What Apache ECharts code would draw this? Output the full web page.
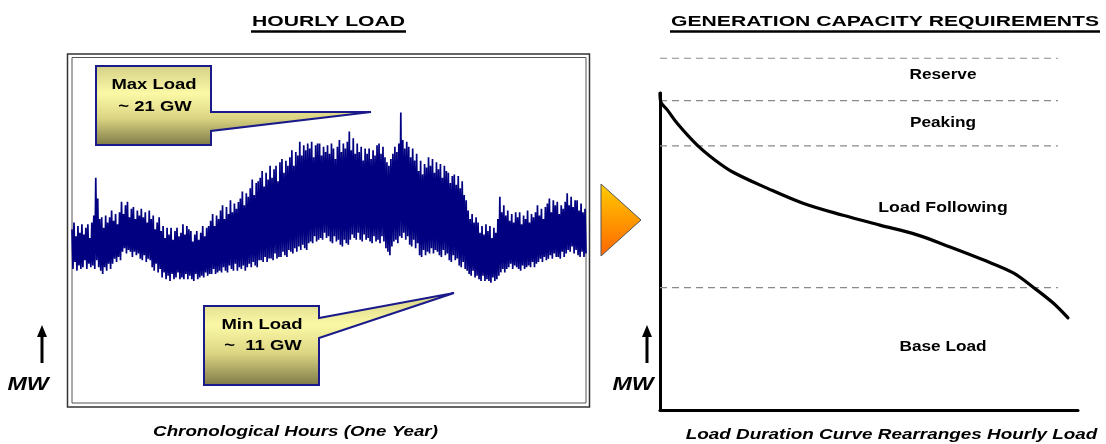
<!DOCTYPE html>
<html><head><meta charset="UTF-8">
<title>Hourly load / generation capacity</title>
<script src="https://cdn.jsdelivr.net/npm/echarts@6.0.0/dist/echarts.min.js"></script>
<style>
  html, body { margin: 0; padding: 0; background: #fff; }
  #main { width: 1106px; height: 444px; }
</style>
</head>
<body>
<div id="main"></div>
<script type="text/javascript">
var hourlyLoad = [
  14.2,11.9, 14.6,12.3, 13.8,11.8, 14.4,12.1, 14.0,11.9,
  14.5,12.0, 13.9,12.4, 14.3,11.9, 14.5,12.2, 13.7,12.0,
  14.6,12.1, 15.0,11.9, 17.2,12.4, 16.0,12.0, 14.8,11.8,
  14.9,11.6, 14.3,12.0, 15.0,11.8, 14.6,12.2, 14.9,11.9,
  15.3,12.2, 14.7,12.5, 15.1,12.3, 14.5,12.6, 15.2,12.4,
  15.8,12.9, 15.1,13.1, 15.6,12.8, 15.8,13.0, 14.9,12.9,
  15.4,12.6, 15.5,12.9, 14.8,12.7, 15.3,12.8, 15.0,12.5,
  15.4,12.4, 14.9,12.7, 15.2,12.3, 14.6,12.5, 15.3,12.4,
  14.8,12.0, 15.0,11.8, 14.2,12.2, 14.6,11.7, 14.9,11.9,
  14.1,11.4, 14.4,11.7, 13.7,11.3, 14.3,11.5, 13.9,11.2,
  14.3,11.6, 13.6,11.3, 14.1,11.4, 14.3,11.7, 13.8,11.3,
  14.0,11.4, 14.5,11.3, 13.9,11.6, 14.4,11.3, 14.2,11.5,
  14.1,11.3, 13.5,11.2, 13.9,11.6, 14.1,11.3, 13.6,11.4,
  14.0,11.5, 14.4,11.4, 13.8,11.7, 14.3,11.5, 14.4,11.6,
  14.7,11.6, 15.1,11.9, 14.4,11.6, 15.0,11.7, 14.8,11.8,
  15.3,11.7, 15.6,12.0, 14.8,11.8, 15.5,11.7, 15.1,12.1,
  15.9,11.9, 15.2,11.8, 15.7,12.2, 15.4,11.8, 15.8,12.0,
  16.0,11.9, 16.4,12.1, 15.6,11.8, 16.3,12.0, 16.1,12.2,
  16.6,12.0, 17.1,12.3, 16.2,12.1, 16.9,12.0, 17.0,12.4,
  17.2,12.4, 17.6,12.3, 16.7,12.6, 17.5,12.3, 17.1,12.5,
  17.9,12.5, 17.2,12.4, 17.7,12.8, 17.9,12.5, 17.0,12.6,
  18.1,12.6, 18.3,12.9, 17.5,12.7, 18.2,12.6, 17.9,13.0,
  18.4,12.9, 18.8,12.8, 17.9,13.1, 18.7,12.9, 18.5,13.2,
  19.3,13.0, 18.5,13.3, 19.1,13.1, 18.8,13.0, 19.2,13.4,
  18.9,13.5, 19.3,13.4, 18.4,13.8, 19.1,13.5, 19.2,13.6,
  19.2,13.7, 18.5,13.6, 19.0,14.0, 18.7,13.7, 19.1,13.8,
  18.6,13.5, 19.2,13.4, 18.9,13.8, 18.3,13.5, 19.0,13.6,
  19.4,13.3, 18.7,13.2, 19.2,13.6, 18.9,13.4, 19.3,13.3,
  19.9,13.6, 18.8,13.9, 19.5,13.7, 18.6,13.6, 19.2,14.0,
  18.7,13.6, 19.0,13.5, 18.2,13.9, 18.9,13.6, 18.6,13.7,
  18.9,13.5, 18.3,13.4, 18.8,13.8, 18.5,13.5, 19.1,13.6,
  19.2,13.4, 18.6,13.8, 19.0,13.5, 18.4,13.1, 18.1,12.9,
  17.9,12.7, 18.3,13.2, 18.6,13.5, 19.0,13.6, 18.7,13.4,
  19.2,13.8, 21.0,13.7, 19.4,14.0, 18.9,13.6, 19.3,13.8,
  19.0,13.3, 18.4,13.2, 18.9,13.6, 18.2,13.1, 18.6,13.4,
  17.6,12.7, 18.2,12.6, 17.4,13.0, 18.0,12.7, 17.8,12.9,
  18.4,12.8, 17.9,13.1, 18.3,12.8, 17.5,13.0, 18.1,12.9,
  17.7,12.7, 18.0,12.6, 17.2,13.0, 17.9,12.7, 17.6,12.8,
  17.5,12.4, 16.9,12.3, 17.3,12.7, 17.4,12.4, 16.8,12.5,
  17.3,12.1, 16.6,12.0, 17.0,12.3, 16.2,11.9, 15.9,11.8,
  15.3,11.6, 14.8,11.5, 15.1,11.8, 14.6,11.4, 14.9,11.5,
  14.6,11.3, 14.0,11.2, 14.4,11.5, 13.9,11.2, 14.5,11.3,
  14.1,11.2, 14.4,11.1, 13.7,11.4, 14.3,11.2, 14.0,11.3,
  14.8,11.5, 16.1,11.7, 15.2,11.9, 15.6,11.7, 15.0,11.9,
  15.3,12.0, 14.7,12.2, 15.1,11.9, 14.6,12.1, 15.2,12.0,
  14.9,11.9, 15.2,11.8, 14.5,12.1, 15.0,11.9, 14.8,12.0,
  15.3,12.1, 14.6,12.0, 15.1,12.3, 14.9,12.0, 15.2,12.2,
  15.6,12.3, 15.0,12.5, 15.4,12.3, 14.8,12.6, 15.5,12.4,
  15.7,12.5, 16.0,12.7, 15.2,12.5, 15.9,12.8, 15.6,12.6,
  15.8,12.6, 15.1,12.5, 15.6,12.9, 15.4,12.6, 15.8,12.8,
  16.3,13.0, 15.6,12.9, 16.1,13.2, 15.5,12.8, 15.9,13.0,
  15.9,12.7, 15.3,12.6, 15.7,12.9, 15.2,12.6, 15.4,12.8
];

// load duration curve: share of hours (%) and load (schematic units)
var durationPct  = [0, 0.2, 1.7, 4.1, 8.9, 13.2, 17.5, 25.6, 34.2, 43.8, 52.6, 61.5, 69.4, 77.3, 84.4, 89.2, 94.0, 97.6];
var durationLoad = [21.0, 20.4, 19.9, 19.0, 17.55, 16.55, 15.75, 14.7, 13.7, 12.9, 12.25, 11.6, 10.8, 9.95, 9.1, 8.15, 7.1, 6.1];

// capacity band edges (same units), dashed lines from top to bottom
var bandEdges = [23.3, 20.5, 17.5, 8.1];
var bandEnd = 95.2;
var bandNames = ['Reserve', 'Peaking', 'Load Following', 'Base Load'];

var titles = ['HOURLY LOAD', 'GENERATION CAPACITY REQUIREMENTS'];
var captions = ['Chronological Hours (One Year)', 'Load Duration Curve Rearranges Hourly Load'];
var maxLabel = ['Max Load', '~ 21 GW'];
var minLabel = ['Min Load', '~  11 GW'];

var FONT = '"Liberation Sans", Arial, sans-serif';

function txt(s, x, y, size, sx, italic) {
    return {
        type: 'text', x: x, y: y, scaleX: sx, z: 110,
        style: {
            text: s, font: (italic ? 'italic ' : '') + 'bold ' + size + 'px ' + FONT,
            fill: '#000', textAlign: 'center', align: 'center',
            textVerticalAlign: 'middle', verticalAlign: 'middle'
        }
    };
}

function boxFill() {
    return new echarts.graphic.LinearGradient(0, 0, 0, 1, [
        {offset: 0, color: '#d3cf86'},
        {offset: 0.35, color: '#fbf9a6'},
        {offset: 0.65, color: '#dcd683'},
        {offset: 1, color: '#7c7846'}
    ]);
}

var hourlyData = hourlyLoad.map(function (v, i) { return [i, v]; });
var durationData = durationPct.map(function (p, i) { return [p, durationLoad[i]]; });

var series = [
    {
        name: 'hourly', type: 'line', xAxisIndex: 0, yAxisIndex: 0,
        data: hourlyData, symbol: 'none', animation: false,
        lineStyle: {color: '#000080', width: 1.7}
    },
    {
        name: 'duration', type: 'line', xAxisIndex: 1, yAxisIndex: 1,
        data: durationData, symbol: 'none', smooth: 0.35, animation: false, z: 5,
        lineStyle: {color: '#000', width: 3.2, cap: 'round'}
    }
];
for (var b = 0; b < bandEdges.length; b++) {
    series.push({
        type: 'line', xAxisIndex: 2, yAxisIndex: 2, symbol: 'none', animation: false, silent: true,
        data: [[0, bandEdges[b]], [bandEnd, bandEdges[b]]],
        lineStyle: {color: '#8a8a8a', width: 1.2, type: [7, 5]}
    });
}

var hidden = {show: false};
var option = {
    backgroundColor: '#fff',
    animation: false,
    grid: [
        {left: 72, top: 57.5, width: 514, height: 345.5, show: true, borderColor: '#555', borderWidth: 1, backgroundColor: 'transparent'},
        {left: 660, top: 93, width: 418, height: 317},
        {left: 660, top: 47.7, width: 418, height: 362.3}
    ],
    xAxis: [
        {gridIndex: 0, type: 'value', min: 0, max: hourlyLoad.length - 1, show: false},
        {gridIndex: 1, type: 'value', min: 0, max: 100,
         axisLine: {show: true, onZero: false, lineStyle: {color: '#000', width: 3}},
         axisTick: hidden, axisLabel: hidden, splitLine: hidden},
        {gridIndex: 2, type: 'value', min: 0, max: 100, show: false}
    ],
    yAxis: [
        {gridIndex: 0, type: 'value', min: 4.1, max: 24.2, show: false},
        {gridIndex: 1, type: 'value', min: 0, max: 21,
         axisLine: {show: true, onZero: false, lineStyle: {color: '#000', width: 3}},
         axisTick: hidden, axisLabel: hidden, splitLine: hidden},
        {gridIndex: 2, type: 'value', min: 0, max: 24, show: false}
    ],
    series: series,
    graphic: [
        // outer frame of the hourly plot
        {type: 'rect', shape: {x: 67.5, y: 54, width: 522, height: 353}, style: {fill: 'none', stroke: '#333', lineWidth: 1.5}},
        // titles with underline
        txt(titles[0], 328.5, 22, 15, 1.41),
        {type: 'line', shape: {x1: 251, y1: 31.5, x2: 406, y2: 31.5}, style: {stroke: '#000', lineWidth: 2.5}},
        txt(titles[1], 885, 22, 15, 1.41),
        {type: 'line', shape: {x1: 670, y1: 31.5, x2: 1100, y2: 31.5}, style: {stroke: '#000', lineWidth: 2.5}},
        // captions
        txt(captions[0], 295.5, 432, 15, 1.25, true),
        txt(captions[1], 891.5, 435, 15, 1.26, true),
        // MW arrows
        txt('MW', 28, 385, 19, 1.22, true),
        {type: 'polygon', shape: {points: [[37, 337], [47, 337], [42, 325]]}, style: {fill: '#000'}},
        {type: 'line', shape: {x1: 42, y1: 336, x2: 42, y2: 363}, style: {stroke: '#000', lineWidth: 3}},
        txt('MW', 633, 385, 19, 1.22, true),
        {type: 'polygon', shape: {points: [[642, 337], [652, 337], [647, 325]]}, style: {fill: '#000'}},
        {type: 'line', shape: {x1: 647, y1: 336, x2: 647, y2: 363}, style: {stroke: '#000', lineWidth: 3}},
        // orange arrow between the panels
        {type: 'polygon', shape: {points: [[601, 184], [641, 220], [601, 256]]},
         style: {stroke: '#555', lineWidth: 1, fill: new echarts.graphic.LinearGradient(0, 0, 0, 1, [
             {offset: 0, color: '#ffcc00'}, {offset: 1, color: '#ff6600'}])}},
        // callouts
        {type: 'polygon', z: 100, shape: {points: [[96, 66], [211, 66], [211, 112], [371, 112], [211, 131], [211, 145], [96, 145]]},
         style: {fill: boxFill(), stroke: '#1a1a8a', lineWidth: 2}},
        txt(maxLabel[0], 154, 85, 14, 1.32),
        txt(maxLabel[1], 155, 107, 14, 1.32),
        {type: 'polygon', z: 100, shape: {points: [[204, 306], [319, 306], [319, 318], [454, 293], [319, 338], [319, 385], [204, 385]]},
         style: {fill: boxFill(), stroke: '#1a1a8a', lineWidth: 2}},
        txt(minLabel[0], 262, 325, 14, 1.32),
        txt(minLabel[1], 263, 346, 14, 1.32),
        // band names
        txt(bandNames[0], 943, 75, 14, 1.23),
        txt(bandNames[1], 943, 123, 14, 1.23),
        txt(bandNames[2], 943, 208, 14, 1.26),
        txt(bandNames[3], 943, 347, 14, 1.23)
    ]
};

var myChart = echarts.init(document.getElementById('main'), null, {renderer: 'canvas'});
myChart.setOption(option);
</script>
</body></html>
